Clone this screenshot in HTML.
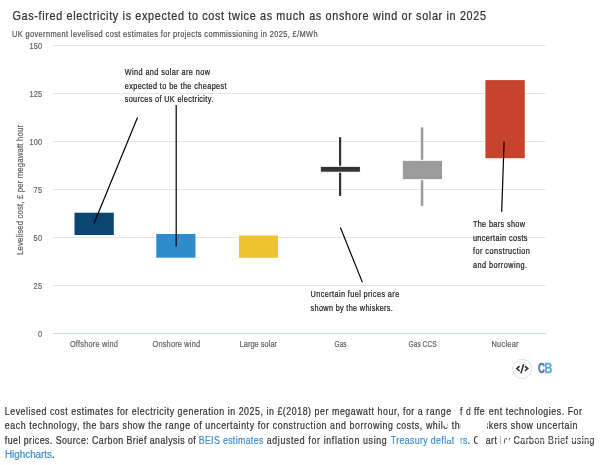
<!DOCTYPE html>
<html><head><meta charset="utf-8">
<style>
html,body{margin:0;padding:0;background:#fff;width:600px;height:465px;overflow:hidden;}
svg{display:block;will-change:transform;font-family:"Liberation Sans",sans-serif;}
</style></head>
<body>
<svg width="600" height="465" viewBox="0 0 600 465">
<text transform="translate(12.5,19.7) scale(0.88,1)" font-size="12.3" fill="#333" stroke="#333" stroke-width="0.25" textLength="538.07" lengthAdjust="spacing">Gas-fired electricity is expected to cost twice as much as onshore wind or solar in 2025</text>
<text transform="translate(12,37) scale(0.88,1)" font-size="8.4" fill="#555" stroke="#555" stroke-width="0.22" textLength="347.27" lengthAdjust="spacing">UK government levelised cost estimates for projects commissioning in 2025, £/MWh</text>
<g stroke="#e6e6e6" stroke-width="1">
<line x1="53" x2="546" y1="45.5" y2="45.5"/>
<line x1="53" x2="546" y1="93.5" y2="93.5"/>
<line x1="53" x2="546" y1="141.5" y2="141.5"/>
<line x1="53" x2="546" y1="189.5" y2="189.5"/>
<line x1="53" x2="546" y1="237.5" y2="237.5"/>
<line x1="53" x2="546" y1="285.5" y2="285.5"/>
</g>
<line x1="53" x2="546" y1="333.5" y2="333.5" stroke="#ccd6eb" stroke-width="1"/>
<text transform="translate(42,49.0) scale(0.88,1)" font-size="8.4" fill="#666" stroke="#666" stroke-width="0.22" text-anchor="end" textLength="14.09" lengthAdjust="spacing">150</text>
<text transform="translate(42,97.0) scale(0.88,1)" font-size="8.4" fill="#666" stroke="#666" stroke-width="0.22" text-anchor="end" textLength="14.09" lengthAdjust="spacing">125</text>
<text transform="translate(42,145.0) scale(0.88,1)" font-size="8.4" fill="#666" stroke="#666" stroke-width="0.22" text-anchor="end" textLength="14.09" lengthAdjust="spacing">100</text>
<text transform="translate(42,193.0) scale(0.88,1)" font-size="8.4" fill="#666" stroke="#666" stroke-width="0.22" text-anchor="end" textLength="9.55" lengthAdjust="spacing">75</text>
<text transform="translate(42,241.0) scale(0.88,1)" font-size="8.4" fill="#666" stroke="#666" stroke-width="0.22" text-anchor="end" textLength="9.55" lengthAdjust="spacing">50</text>
<text transform="translate(42,289.0) scale(0.88,1)" font-size="8.4" fill="#666" stroke="#666" stroke-width="0.22" text-anchor="end" textLength="9.55" lengthAdjust="spacing">25</text>
<text transform="translate(42,337.0) scale(0.88,1)" font-size="8.4" fill="#666" stroke="#666" stroke-width="0.22" text-anchor="end" textLength="4.89" lengthAdjust="spacing">0</text>
<text transform="translate(22.6,190) rotate(-90) scale(0.88,1)" font-size="8.9" fill="#666" stroke="#666" stroke-width="0.22" text-anchor="middle" textLength="147.73" lengthAdjust="spacing">Levelised cost, £ per megawatt hour</text>
<text transform="translate(93.9,346.7) scale(0.88,1)" font-size="8.4" fill="#666" stroke="#666" stroke-width="0.22" text-anchor="middle" textLength="54.55" lengthAdjust="spacing">Offshore wind</text>
<text transform="translate(176.3,346.7) scale(0.88,1)" font-size="8.4" fill="#666" stroke="#666" stroke-width="0.22" text-anchor="middle" textLength="53.98" lengthAdjust="spacing">Onshore wind</text>
<text transform="translate(258.3,346.7) scale(0.88,1)" font-size="8.4" fill="#666" stroke="#666" stroke-width="0.22" text-anchor="middle" textLength="42.61" lengthAdjust="spacing">Large solar</text>
<text transform="translate(340.6,346.7) scale(0.7789,1)" font-size="8.4" fill="#666" stroke="#666" stroke-width="0.22" text-anchor="middle" textLength="15.41" lengthAdjust="spacing">Gas</text>
<text transform="translate(422.6,346.7) scale(0.7893,1)" font-size="8.4" fill="#666" stroke="#666" stroke-width="0.22" text-anchor="middle" textLength="35.47" lengthAdjust="spacing">Gas CCS</text>
<text transform="translate(505,346.7) scale(0.88,1)" font-size="8.4" fill="#666" stroke="#666" stroke-width="0.22" text-anchor="middle" textLength="30.68" lengthAdjust="spacing">Nuclear</text>
<rect x="74.5" y="212.7" width="39.3" height="22.3" fill="#0b4572"/>
<rect x="156.3" y="234" width="39.2" height="23.7" fill="#2e8bcc"/>
<rect x="239" y="235.5" width="39" height="22.3" fill="#efc42e"/>
<rect x="339" y="137.2" width="2.2" height="58.7" fill="#333"/>
<rect x="320.3" y="166.3" width="40.1" height="5.9" fill="#333" stroke="#fff" stroke-width="1"/>
<rect x="420.8" y="127.4" width="2.5" height="78.4" fill="#9b9b9b"/>
<rect x="402.3" y="160.3" width="40.2" height="19.4" fill="#9b9b9b" stroke="#fff" stroke-width="1"/>
<rect x="485.4" y="80.1" width="39.4" height="78.1" fill="#c8432b"/>
<g stroke="#000" stroke-width="1.2" fill="none">
<line x1="94" y1="223.5" x2="137.5" y2="117.4"/>
<line x1="176.2" y1="105" x2="176.2" y2="246.5"/>
<line x1="340.4" y1="227.5" x2="362.4" y2="282.4"/>
<line x1="504.1" y1="141.4" x2="501.7" y2="211.8"/>
</g>
<text transform="translate(124.7,75.2) scale(0.88,1)" font-size="8.3" fill="#222" stroke="#222" stroke-width="0.22" textLength="96.93" lengthAdjust="spacing">Wind and solar are now</text>
<text transform="translate(124.7,88.5) scale(0.88,1)" font-size="8.3" fill="#222" stroke="#222" stroke-width="0.22" textLength="115.8" lengthAdjust="spacing">expected to be the cheapest</text>
<text transform="translate(124.7,101.9) scale(0.88,1)" font-size="8.3" fill="#222" stroke="#222" stroke-width="0.22" textLength="100.57" lengthAdjust="spacing">sources of UK electricity.</text>
<text transform="translate(310.6,297.4) scale(0.88,1)" font-size="8.3" fill="#222" stroke="#222" stroke-width="0.22" textLength="100.68" lengthAdjust="spacing">Uncertain fuel prices are</text>
<text transform="translate(310.6,310.9) scale(0.88,1)" font-size="8.3" fill="#222" stroke="#222" stroke-width="0.22" textLength="93.41" lengthAdjust="spacing">shown by the whiskers.</text>
<text transform="translate(472.9,227.0) scale(0.88,1)" font-size="8.3" fill="#222" stroke="#222" stroke-width="0.22" textLength="59.2" lengthAdjust="spacing">The bars show</text>
<text transform="translate(472.9,240.5) scale(0.88,1)" font-size="8.3" fill="#222" stroke="#222" stroke-width="0.22" textLength="62.05" lengthAdjust="spacing">uncertain costs</text>
<text transform="translate(472.9,254.0) scale(0.88,1)" font-size="8.3" fill="#222" stroke="#222" stroke-width="0.22" textLength="64.77" lengthAdjust="spacing">for construction</text>
<text transform="translate(472.9,267.5) scale(0.88,1)" font-size="8.3" fill="#222" stroke="#222" stroke-width="0.22" textLength="61.59" lengthAdjust="spacing">and borrowing.</text>
<circle cx="522.2" cy="368.9" r="9.6" fill="#fff" stroke="#e4dcdc" stroke-width="1"/>
<g stroke="#333" stroke-width="1.6" fill="none" stroke-linecap="butt" stroke-linejoin="miter">
<path d="M519.6 366.2 L516.8 368.6 L519.6 371"/>
<path d="M520.9 373.4 L523.6 364.1"/>
<path d="M524.9 366.2 L527.7 368.6 L524.9 371"/>
</g>
<text transform="translate(538,372.9) scale(0.68,1)" font-size="14.2" font-weight="bold" fill="#4a7db0" stroke="#4a7db0" stroke-width="0.5">C</text>
<text transform="translate(544.6,372.9) scale(0.76,1)" font-size="14.2" font-weight="bold" fill="#5ea8df" stroke="#5ea8df" stroke-width="0.4">B</text>
<text transform="translate(4.8,415) scale(0.88,1)" font-size="10" fill="#333" stroke="#333" stroke-width="0.22" textLength="655.91" lengthAdjust="spacing">Levelised cost estimates for electricity generation in 2025, in £(2018) per megawatt hour, for a range of different technologies. For</text>
<text transform="translate(4.8,429) scale(0.88,1)" font-size="10" fill="#333" stroke="#333" stroke-width="0.22" textLength="650.68" lengthAdjust="spacing">each technology, the bars show the range of uncertainty for construction and borrowing costs, while the whiskers show uncertain</text>
<text transform="translate(4.8,443.6) scale(0.88,1)" font-size="10" fill="#333" stroke="#333" stroke-width="0.22" textLength="217.05" lengthAdjust="spacing">fuel prices. Source: Carbon Brief analysis of</text>
<text transform="translate(198.7,443.6) scale(0.88,1)" font-size="10" fill="#3d8fd1" stroke="#3d8fd1" stroke-width="0.22" textLength="73.41" lengthAdjust="spacing">BEIS estimates</text>
<text transform="translate(266.7,443.6) scale(0.88,1)" font-size="10" fill="#333" stroke="#333" stroke-width="0.22" textLength="136.36" lengthAdjust="spacing">adjusted for inflation using</text>
<text transform="translate(390.8,443.6) scale(0.88,1)" font-size="10" fill="#3d8fd1" stroke="#3d8fd1" stroke-width="0.22" textLength="87.16" lengthAdjust="spacing">Treasury deflators</text>
<text transform="translate(467.6,443.6) scale(0.88,1)" font-size="10" fill="#333" stroke="#333" stroke-width="0.22" textLength="144.09" lengthAdjust="spacing">. Chart by Carbon Brief using</text>
<g fill="#fff">
<rect x="453.5" y="405" width="5.6" height="11"/>
<rect x="470.6" y="404" width="3" height="12"/>
<rect x="484.6" y="404" width="3.8" height="12"/>
<rect x="443.5" y="421" width="4" height="5"/>
<rect x="460.5" y="420" width="26.5" height="11"/>
<rect x="447.5" y="437" width="4.5" height="3"/>
<rect x="454" y="435" width="6.5" height="10"/>
<rect x="477.5" y="435" width="7.5" height="10"/>
<rect x="501" y="436" width="3" height="8"/>
<rect x="505" y="440" width="4" height="6"/>
<rect x="505" y="439.3" width="88" height="1.6" opacity="0.6"/>
</g>
<text x="5" y="457.5" font-size="10" fill="#333" stroke="#333" stroke-width="0.22"><tspan fill="#3d8fd1" stroke="#3d8fd1" textLength="47" lengthAdjust="spacingAndGlyphs">Highcharts</tspan>.</text>
</svg>
</body></html>
